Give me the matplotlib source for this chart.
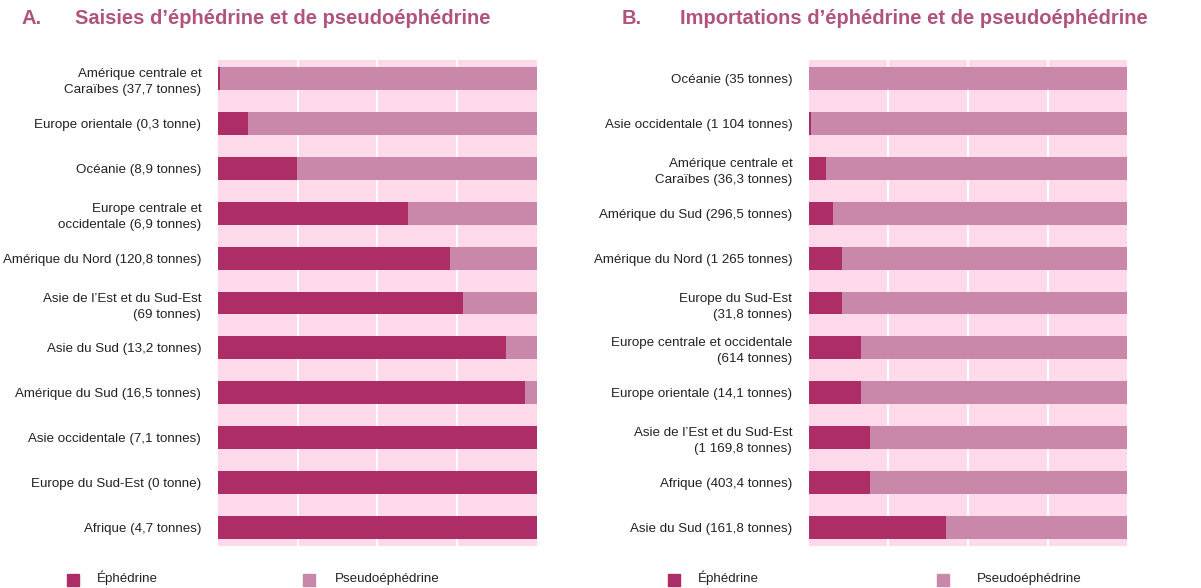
import numpy as np
import matplotlib.pyplot as plt
from matplotlib.patches import Rectangle

# panel A : saisies
labels_a = ["Amérique centrale et\nCaraïbes (37,7 tonnes)", "Europe orientale (0,3 tonne)",
            "Océanie (8,9 tonnes)", "Europe centrale et\noccidentale (6,9 tonnes)",
            "Amérique du Nord (120,8 tonnes)", "Asie de l\u2019Est et du Sud-Est\n(69 tonnes)",
            "Asie du Sud (13,2 tonnes)", "Amérique du Sud (16,5 tonnes)",
            "Asie occidentale (7,1 tonnes)", "Europe du Sud-Est (0 tonne)", "Afrique (4,7 tonnes)"]
ephe_a = [0.5, 9.5, 24.9, 59.5, 72.7, 76.8, 90.2, 96.3, 100, 100, 100]

# panel B : importations
labels_b = ["Océanie (35 tonnes)", "Asie occidentale (1 104 tonnes)",
            "Amérique centrale et\nCaraïbes (36,3 tonnes)", "Amérique du Sud (296,5 tonnes)",
            "Amérique du Nord (1 265 tonnes)", "Europe du Sud-Est\n(31,8 tonnes)",
            "Europe centrale et occidentale\n(614 tonnes)", "Europe orientale (14,1 tonnes)",
            "Asie de l\u2019Est et du Sud-Est\n(1 169,8 tonnes)", "Afrique (403,4 tonnes)",
            "Asie du Sud (161,8 tonnes)"]
ephe_b = [0.0, 0.7, 5.2, 7.4, 10.3, 10.3, 16.5, 16.5, 19.2, 19.2, 43.0]

titles = ["Saisies d\u2019éphédrine et de pseudoéphédrine",
          "Importations d\u2019éphédrine et de pseudoéphédrine"]
letters = ["A.", "B."]

dark = "#ad2e66"
light = "#c987a9"
bg = "#fdd9e9"
title_col = "#b0547f"

plt.rcParams['font.family'] = ['Liberation Sans', 'DejaVu Sans']

fig = plt.figure(figsize=(12.01, 5.88), dpi=100)
pos = [[0.1815, 0.0714, 0.2656, 0.8265], [0.6736, 0.0714, 0.2648, 0.8265]]

for k, (labs, eph) in enumerate([(labels_a, ephe_a), (labels_b, ephe_b)]):
    ax = fig.add_axes(pos[k])
    ax.set_facecolor(bg)
    y = np.arange(len(labs))
    eph = np.array(eph)
    for g in [25, 50, 75]:
        ax.axvline(g, color="white", lw=1.5, zorder=1)
    ax.barh(y, eph, height=0.51, color=dark, zorder=2)
    ax.barh(y, 100 - eph, left=eph, height=0.51, color=light, zorder=2)
    ax.set_xlim(0, 100)
    ax.set_ylim(len(labs) - 1 + 0.41, -0.41)
    ax.set_yticks(y)
    ax.set_yticklabels(labs, fontsize=9.6, color="#222222", linespacing=1.45)
    ax.tick_params(axis="y", length=0, pad=12)
    ax.set_xticks([])
    for s in ax.spines.values():
        s.set_visible(False)

# titres
tfont = dict(fontsize=14.5, fontweight="bold", color=title_col, va="center")
fig.text(22 / 1201, 1 - 19 / 588, letters[0], **tfont)
fig.text(75 / 1201, 1 - 19 / 588, titles[0], **tfont)
fig.text(622 / 1201, 1 - 19 / 588, letters[1], **tfont)
fig.text(680 / 1201, 1 - 19 / 588, titles[1], **tfont)

# legendes
leg = [(67, 97, dark, "Éphédrine"), (303, 335, light, "Pseudoéphédrine"),
       (668, 698, dark, "Éphédrine"), (937, 977, light, "Pseudoéphédrine")]
for sx, tx, c, t in leg:
    fig.patches.append(Rectangle((sx / 1201, 1 - 586 / 588), 12 / 1201, 12 / 588,
                                 transform=fig.transFigure, color=c))
    fig.text(tx / 1201, 1 - 582 / 588, t, fontsize=9.6, color="#222222", va="baseline")

fig.savefig("out.png", dpi=100)
